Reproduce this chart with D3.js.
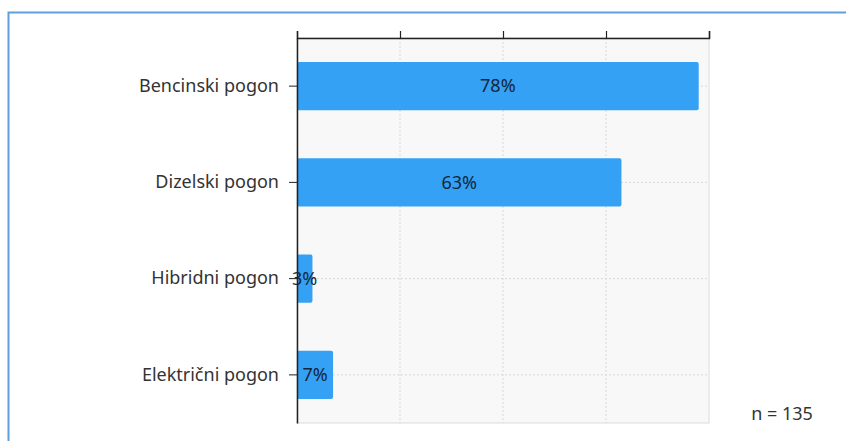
<!DOCTYPE html>
<html><head><meta charset="utf-8">
<script src="https://cdn.jsdelivr.net/npm/d3@7/dist/d3.min.js"></script>
<style>body{margin:0;background:#fff;}svg{display:block;font-family:"Noto Sans",sans-serif;}</style>
</head><body>
<svg id="c" width="846" height="441"></svg>
<script>
const categories = ["Bencinski pogon","Dizelski pogon","Hibridni pogon","Električni pogon"];
const values = [78, 63, 3, 7];
const ticks = [0, 20, 40, 60, 80];
const note = "n = 135";

const svg = d3.select("#c");
const m = {left:297, right:709, top:38, bottom:423};
svg.append("rect").attr("x",8.5).attr("y",12.5).attr("width",900).attr("height",500)
  .attr("fill","none").attr("stroke","#5e9fdc").attr("stroke-width",2);

const x = d3.scaleLinear().domain([0,80]).range([m.left,m.right]);
const y = d3.scaleBand().domain(categories).range([m.top,m.bottom]).paddingInner(0.5).paddingOuter(0.25);

svg.append("rect").attr("x",m.left).attr("y",m.top).attr("width",m.right-m.left).attr("height",m.bottom-m.top)
  .attr("fill","#f8f8f8").attr("stroke","#dcdcdc");

// grid
svg.append("g").selectAll("line").data(ticks.slice(1,-1)).join("line")
  .attr("x1",d=>x(d)).attr("x2",d=>x(d)).attr("y1",m.top).attr("y2",m.bottom)
  .attr("stroke","#d8d8d8").attr("stroke-dasharray","2,2");
svg.append("g").selectAll("line").data(categories).join("line")
  .attr("x1",m.left).attr("x2",m.right).attr("y1",d=>y(d)+y.bandwidth()/2).attr("y2",d=>y(d)+y.bandwidth()/2)
  .attr("stroke","#d8d8d8").attr("stroke-dasharray","2,2");

// bars
svg.append("g").selectAll("rect").data(values).join("rect")
  .attr("x",x(0)).attr("y",(d,i)=>y(categories[i])).attr("height",y.bandwidth())
  .attr("width",d=>x(d)-x(0)).attr("rx",2).attr("fill","#35a1f4");
svg.append("g").selectAll("text").data(values).join("text")
  .attr("x",d=>(x(0)+x(d))/2).attr("y",(d,i)=>y(categories[i])+y.bandwidth()/2)
  .attr("dy","0.35em").attr("text-anchor","middle").attr("font-size",18).attr("fill","#14263a")
  .text(d=>d+"%");

// axes
const topAxis = svg.append("g").attr("transform",`translate(0,${m.top})`)
  .call(d3.axisTop(x).tickValues(ticks).tickSize(7).tickFormat(""));
topAxis.select(".domain").attr("stroke","#222").attr("stroke-width",1.5);
topAxis.selectAll(".tick line").attr("stroke","#222").attr("stroke-width",1.2);

const leftAxis = svg.append("g").attr("transform",`translate(${m.left},0)`)
  .call(d3.axisLeft(y).tickSizeInner(8).tickSizeOuter(0).tickPadding(10));
leftAxis.select(".domain").attr("stroke","#222").attr("stroke-width",1.5);
leftAxis.selectAll(".tick line").attr("stroke","#222");
leftAxis.selectAll(".tick text").attr("font-size",18).attr("fill","#333").attr("font-family","Noto Sans");

svg.append("text").attr("x",782).attr("y",420).attr("text-anchor","middle")
  .attr("font-size",18).attr("fill","#333").text(note);
</script>
</body></html>
